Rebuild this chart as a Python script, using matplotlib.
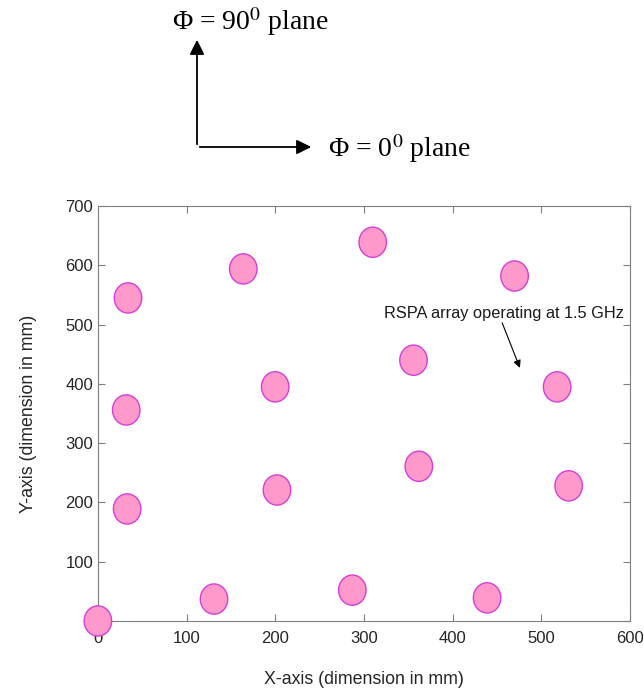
import matplotlib
matplotlib.use("Agg")
import matplotlib.pyplot as plt
from matplotlib.patches import Ellipse, FancyArrowPatch

plt.rcParams["font.family"] = ["Liberation Sans", "DejaVu Sans"]
plt.rcParams["mathtext.fontset"] = "stix"

# element centres (mm)
x_mm = [0, 131, 287, 439, 33, 202, 362, 531, 32, 200, 356, 518, 34, 164, 310, 470]
y_mm = [0, 37, 52, 39, 189, 221, 261, 228, 356, 395, 440, 395, 545, 594, 639, 582]
x_ticks = [0, 100, 200, 300, 400, 500, 600]
y_ticks = [0, 100, 200, 300, 400, 500, 600, 700]

W, H, DPI = 644, 695, 100
fig = plt.figure(figsize=(W / DPI, H / DPI), dpi=DPI)
ax = fig.add_axes([0.152, 0.1065, 0.826, 0.597])

for x, y in zip(x_mm, y_mm):
    ax.add_patch(Ellipse((x, y), 31, 51, facecolor="#ff99cc",
                         edgecolor="#d63fd6", linewidth=1.0,
                         clip_on=False, zorder=3))

ax.set_xlim(0, 600)
ax.set_ylim(0, 700)
ax.set_xticks(x_ticks)
ax.set_yticks(y_ticks)
for sp in ax.spines.values():
    sp.set_color("#808080")
ax.tick_params(direction="in", length=5, color="#808080", labelcolor="#262626",
               labelsize=12, top=True, right=True)
ax.tick_params(axis="x", pad=7)
ax.set_xlabel("X-axis (dimension in mm)", fontsize=12.8, color="#262626", labelpad=18)
ax.set_ylabel("Y-axis (dimension in mm)", fontsize=12.8, color="#262626", labelpad=20)

ax.text(458, 519, "RSPA array operating at 1.5 GHz", ha="center", va="center",
        fontsize=11.8, color="#1a1a1a")
ax.annotate("", xy=(476, 427), xytext=(456, 503),
            arrowprops=dict(arrowstyle="-|>", color="black", lw=0.8,
                            shrinkA=0, shrinkB=0, mutation_scale=11))

# plane direction arrows above the plot
ox, oy = 197 / W, 1 - 147 / H
fig.add_artist(FancyArrowPatch(
    (ox, oy), (ox, 1 - 37 / H), transform=fig.transFigure,
    arrowstyle="-|>", mutation_scale=22, color="black", lw=1.3))
fig.add_artist(FancyArrowPatch(
    (ox, oy), (314 / W, oy), transform=fig.transFigure,
    arrowstyle="-|>", mutation_scale=22, color="black", lw=1.3))
fig.text(172 / W, 1 - 22 / H, "\u03a6 = 90$^{0}$ plane", family="Liberation Serif",
         fontsize=20, ha="left", va="center")
fig.text(328 / W, oy - 2 / H, "\u03a6 = 0$^{0}$ plane", family="Liberation Serif",
         fontsize=20, ha="left", va="center")

fig.savefig("out.png", dpi=DPI, facecolor="white")
